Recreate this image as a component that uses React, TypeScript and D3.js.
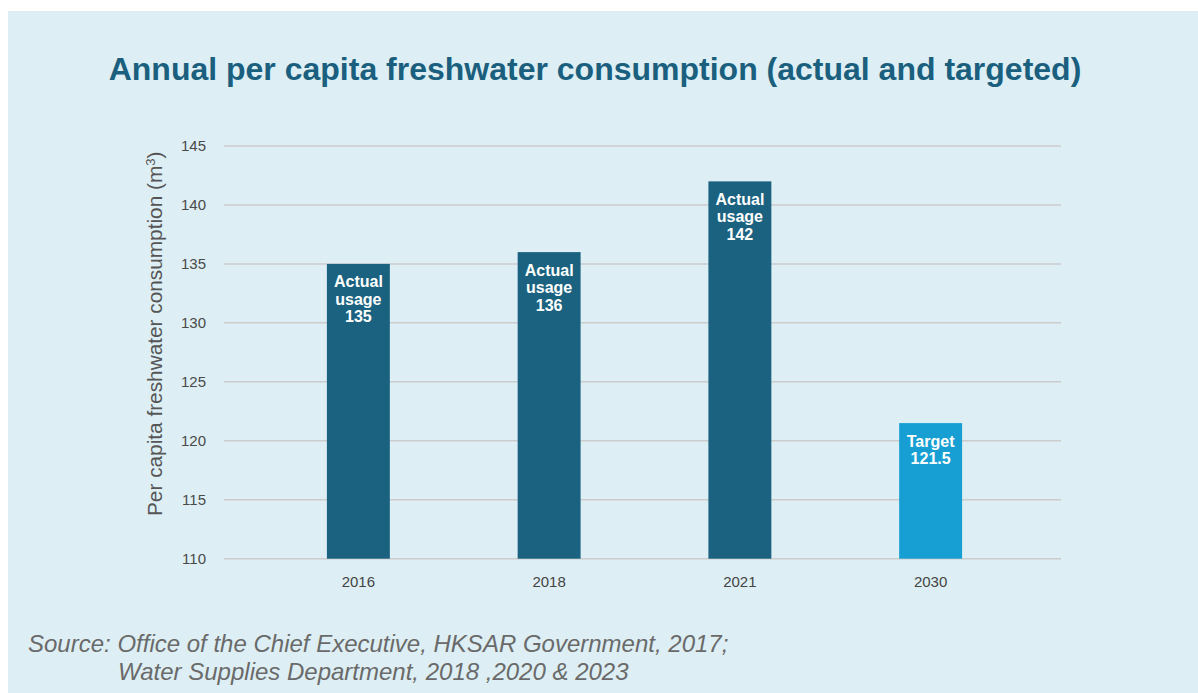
import React from "react";
import * as d3 from "d3";

const years = ["2016", "2018", "2021", "2030"];
const values = [135, 136, 142, 121.5];
const labelLines = [
  ["Actual", "usage", "135"],
  ["Actual", "usage", "136"],
  ["Actual", "usage", "142"],
  ["Target", "121.5"],
];
const isTarget = [false, false, false, true];
const yTicks = [110, 115, 120, 125, 130, 135, 140, 145];

const TITLE = "Annual per capita freshwater consumption (actual and targeted)";
const Y_TITLE = "Per capita freshwater consumption (m";
const SOURCE1 = "Source: Office of the Chief Executive, HKSAR Government, 2017;";
const SOURCE2 = "Water Supplies Department, 2018 ,2020 & 2023";

const W = 1198;
const H = 693;
const FONT = "'Liberation Sans', Arial, Helvetica, sans-serif";

export default function App() {
  const y = d3.scaleLinear().domain([110, 145]).range([558.7, 146]);
  const x = d3
    .scaleBand<string>()
    .domain(years)
    .range([263, 1026])
    .paddingInner(0.67)
    .paddingOuter(0.335);
  const gridX0 = 224;
  const gridX1 = 1061;

  return (
    <svg
      width={W}
      height={H}
      style={{ position: "fixed", left: 0, top: 0, display: "block" }}
      fontFamily={FONT}
    >
      <rect x={0} y={0} width={W} height={H} fill="#ffffff" />
      <rect x={8} y={11} width={W - 8} height={H - 11} fill="#ddeff5" />
      <text
        x={595}
        y={80}
        textAnchor="middle"
        fontSize={32}
        fontWeight="bold"
        fill="#1b5f7f"
      >
        {TITLE}
      </text>

      {yTicks.map((t) => (
        <g key={t}>
          <line
            x1={gridX0}
            x2={gridX1}
            y1={y(t)}
            y2={y(t)}
            stroke="#cccccc"
            strokeWidth={1.5}
          />
          <text
            x={206}
            y={y(t)}
            dy="0.35em"
            textAnchor="end"
            fontSize={15}
            fill="#4a4a4a"
          >
            {t}
          </text>
        </g>
      ))}

      <text
        transform={`translate(162, 516) rotate(-90)`}
        textAnchor="start"
        fontSize={20.8}
        fill="#555555"
      >
        {Y_TITLE}
        <tspan dy={-7} fontSize={13}>3</tspan>
        <tspan dy={7}>)</tspan>
      </text>

      {years.map((yr, i) => {
        const bx = x(yr)!;
        const bw = x.bandwidth();
        const top = y(values[i]);
        const cx = bx + bw / 2;
        return (
          <g key={yr}>
            <rect
              x={bx}
              y={top}
              width={bw}
              height={y(110) - top}
              fill={isTarget[i] ? "#179fd4" : "#1a6280"}
            />
            {labelLines[i].map((ln, j) => (
              <text
                key={j}
                x={cx}
                y={top + 23.5 + j * 17.5}
                textAnchor="middle"
                fontSize={16}
                fontWeight="bold"
                fill="#ffffff"
              >
                {ln}
              </text>
            ))}
            <text
              x={cx}
              y={587}
              textAnchor="middle"
              fontSize={15}
              fill="#444444"
            >
              {yr}
            </text>
          </g>
        );
      })}

      <text x={28} y={652} fontSize={24} fontStyle="italic" fill="#6a6a6a">
        {SOURCE1}
      </text>
      <text x={118} y={680} fontSize={24} fontStyle="italic" fill="#6a6a6a">
        {SOURCE2}
      </text>
    </svg>
  );
}
